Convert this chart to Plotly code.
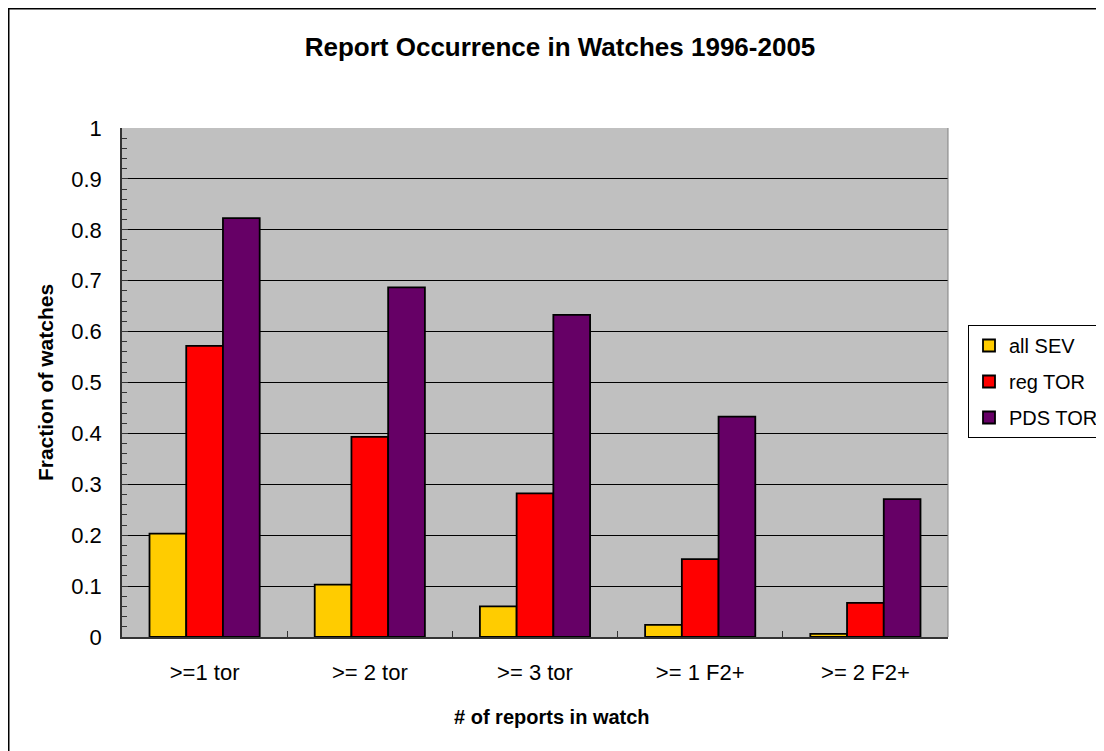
import plotly.graph_objects as go

categories = [">=1 tor", ">= 2 tor", ">= 3 tor", ">= 1 F2+", ">= 2 F2+"]
all_sev = [0.203, 0.103, 0.060, 0.024, 0.006]
reg_tor = [0.572, 0.393, 0.282, 0.153, 0.067]
pds_tor = [0.823, 0.687, 0.633, 0.433, 0.271]
series_names = ["all SEV", "reg TOR", "PDS TOR"]
series_colors = ["#FFCC00", "#FF0000", "#660066"]

# page body has an 8px margin; figure coordinates = reference pixels - 8
OFF = 8
W, H = 1104 - OFF, 751 - OFF
ML = 122 - OFF
MT = 128 - OFF
MR = W - (948 - OFF)
MB = H - (637 - OFF)
PW, PH = W - ML - MR, H - MT - MB

def px_x(p):
    return (p - OFF - ML) / PW

def px_y(p):
    return (H - MB - (p - OFF)) / PH

fig = go.Figure()
for name, vals, col in zip(series_names, [all_sev, reg_tor, pds_tor], series_colors):
    fig.add_trace(go.Bar(
        x=categories, y=vals, name=name, legendgroup=name,
        marker=dict(color=col, line=dict(color="black", width=1.8)),
    ))

FONT = "Liberation Sans, Arial, sans-serif"

fig.update_layout(
    width=W, height=H,
    margin=dict(l=ML, r=MR, t=MT, b=MB, autoexpand=False),
    paper_bgcolor="white",
    plot_bgcolor="#C0C0C0",
    barmode="group",
    bargap=0.333,
    bargroupgap=0,
    font=dict(family=FONT, size=21, color="black"),
    title=dict(
        text="<b>Report Occurrence in Watches 1996-2005</b>",
        x=(560 - OFF) / W, xanchor="center",
        y=1 - (47 - OFF) / H, yanchor="middle",
        font=dict(family=FONT, size=26, color="black"),
    ),
    xaxis=dict(
        showgrid=False,
        showline=True, linecolor="#333333", linewidth=1.5,
        ticks="inside", tickson="boundaries", ticklen=6, tickcolor="#333333",
        ticklabelstandoff=15,
        tickfont=dict(size=22),
        range=[-0.5, 4.5],
    ),
    yaxis=dict(
        range=[0, 1], dtick=0.1, tick0=0,
        showgrid=True, gridcolor="black", gridwidth=1,
        showline=True, linecolor="#333333", linewidth=1.5,
        ticks="inside", ticklen=6, tickcolor="#333333",
        minor=dict(dtick=0.02, ticks="inside", ticklen=5, tickcolor="#333333", showgrid=False),
        ticklabelstandoff=14,
        tickfont=dict(size=22),
        zeroline=False,
        title=dict(text="<b>Fraction of watches</b>", standoff=12,
                   font=dict(size=21)),
    ),
    legend=dict(
        x=px_x(968), y=px_y(325), xanchor="left", yanchor="top",
        bgcolor="white", bordercolor="black", borderwidth=1,
        font=dict(family=FONT, size=20),
        tracegroupgap=7,
        traceorder="grouped",
        itemwidth=30,
    ),
    showlegend=True,
)

# x-axis title (centred as in the reference, slightly right of plot centre)
fig.add_annotation(
    text="<b># of reports in watch</b>", xref="paper", yref="paper",
    x=px_x(552), y=px_y(717), xanchor="center", yanchor="middle",
    showarrow=False, font=dict(family=FONT, size=20, color="black"),
)

# plot-area right border
fig.add_shape(type="line", xref="paper", yref="paper", x0=1, x1=1, y0=0, y1=1,
              line=dict(color="#808080", width=1))
# outer chart border
fig.add_shape(type="rect", xref="paper", yref="paper",
              x0=px_x(8.5), x1=px_x(1104 + 30), y0=px_y(751 + 30), y1=px_y(8.5),
              line=dict(color="black", width=2), layer="above")

fig.write_html("out.html")
